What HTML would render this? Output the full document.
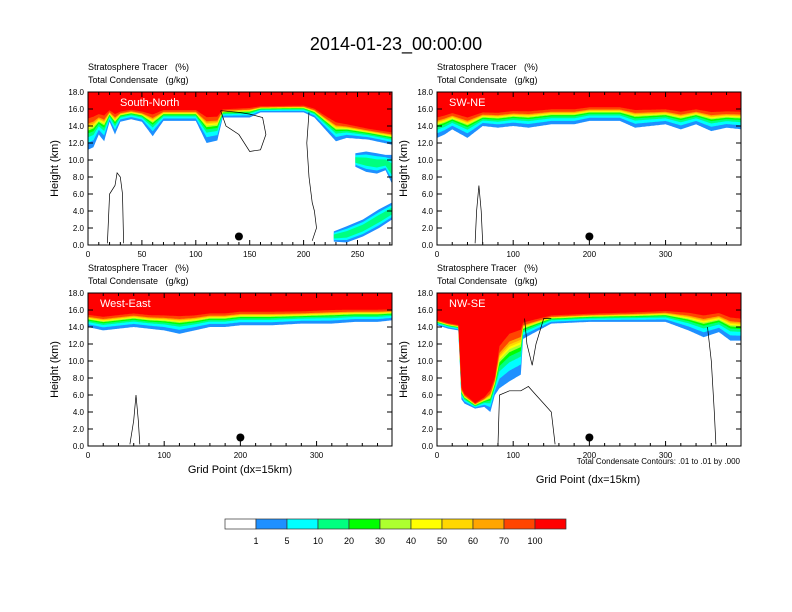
<!DOCTYPE html>
<html><head><meta charset="utf-8"><style>
html,body{margin:0;padding:0;background:#fff}
svg{display:block;font-family:"Liberation Sans",sans-serif}
text{white-space:pre}
</style></head><body>
<svg id="chart" width="792" height="612" viewBox="0 0 792 612" xmlns="http://www.w3.org/2000/svg">
<text x="396" y="50" font-size="18" text-anchor="middle">2014-01-23_00:00:00</text>
<g id="panels"></g>
<g id="colorbar"></g>
<text x="240" y="473" font-size="11" text-anchor="middle">Grid Point (dx=15km)</text>
<text x="588" y="483" font-size="11" text-anchor="middle">Grid Point (dx=15km)</text>
<text x="740" y="464" font-size="8" text-anchor="end">Total Condensate Contours: .01 to .01 by .000</text>
</svg>
<script>
const NS="http://www.w3.org/2000/svg";
const levelLabels=["1","5","10","20","30","40","50","60","70","100"];
const levelColors=["#ffffff","#1e90ff","#00ffff","#00ff80","#00ff00","#adff2f","#ffff00","#ffd700","#ffa500","#ff4500","#ff0000"];
const bandFracs=[0,0.18,0.32,0.42,0.49,0.54,0.58,0.62,0.67,0.8];
const panelNames=["South-North","SW-NE","West-East","NW-SE"];
const panelXmax=[282,399,399,399];
const p1X=[0,5,10,15,20,25,30,40,50,60,70,100,110,120,125,150,160,200,210,220,230,240,260,282];
const p1Base=[11.2,11.5,13,12.2,14.5,13,14.5,14.8,14.5,12.8,14.6,14.6,12,12.3,15,15,15.6,15.6,15,13.6,12.2,12.6,12.4,11.8];
const p1Red=[15.8,16,16,16,16.2,16,16,16.2,16,16,16.2,16.2,15.8,15.8,16.2,16.4,16.5,16.6,16.3,15.6,15,14.6,14,13.6];
const p2X=[0,10,20,40,60,80,100,120,150,180,200,240,260,300,320,340,360,380,401];
const p2Base=[12.6,13,13.6,12.6,14,13.8,14,13.8,14.2,14.2,14.6,14.6,13.8,14.2,13.6,14.2,13.4,13.8,13.6];
const p2Red=[15.6,15.8,16,15.6,16,16,16.2,16.2,16.4,16.4,16.6,16.6,16.4,16.4,16.2,16.4,16.2,16.2,16.2];
const p3X=[0,20,40,60,80,100,120,140,160,180,200,240,280,320,350,380,400];
const p3Base=[14,13.6,13.8,14,13.8,13.6,13.2,13.6,14,14,14.2,14.2,14.4,14.4,14.6,14.6,14.8];
const p3Red=[15.8,15.6,15.8,16,15.8,15.8,15.8,15.8,16,16,16.2,16.2,16.2,16.4,16.4,16.4,16.4];
const p4X=[0,15,28,32,36,50,62,70,76,82,95,110,113,125,150,200,260,300,330,350,370,385,401];
const p4Base=[14.2,13.8,13.6,5.5,5,4.4,4.6,4.0,6,6.8,7.6,8.4,12.6,13.2,14.4,14.6,14.6,14.6,13.6,12.8,13.4,12.4,12.4];
const p4Red=[15,14.6,14.4,7.2,6.4,5.2,6,7.2,8.6,13,14.6,15,15,15.2,15.6,15.8,16,16.2,16.2,16,16.2,15.8,15.6];
const blobX=[228,240,255,270,282];
const blobBot=[0.4,0.3,1.0,2.0,3.0];
const blobTop=[1.6,2.2,3.0,4.2,5.0];
const blob2X=[248,258,268,276,282];
const blob2Bot=[9.2,8.6,8.4,8.8,7.2];
const blob2Top=[10.8,11.0,10.8,10.6,10.6];
const dotX=[140,200,200,200];
const dotH=[1.0,1.0,1.0,1.0];
// condensate .01 contours (grid point, km)
const c1a=[[123,15.8],[128,14],[140,13],[150,11],[160,11.2],[165,13],[162,15],[150,15.4],[140,15.6],[123,15.8]];
const c1b=[[205,15.6],[203,12],[205,8],[208,5],[210,4],[212,2],[208,0.5]];
const c1c=[[18,0.2],[20,6],[25,7],[27,8.5],[30,8],[32,6],[33,0.2]];
const c2a=[[50,0.2],[52,4],[55,7],[58,4],[60,0.2]];
const c3a=[[55,0.2],[60,3],[63,6],[66,3],[68,0.2]];
const c4a=[[80,0.2],[82,6],[95,6.5],[110,6.5],[120,7],[130,6],[140,5],[150,4],[155,0.2]];
const c4b=[[115,15],[118,12],[125,9.5],[130,12],[140,15],[150,15]];
const c4c=[[355,14],[360,10],[362,7],[364,4],[366,0.2]];
const panelContours=[[c1a,c1b,c1c],[c2a],[c3a],[c4a,c4b,c4c]];
const panelX=[p1X,p2X,p3X,p4X];
const panelBase=[p1Base,p2Base,p3Base,p4Base];
const panelRed=[p1Red,p2Red,p3Red,p4Red];
const geom=[[88,92],[437,92],[88,293],[437,293]];
const W=304,H=153,HMAX=18;
function el(tag,attrs,parent){const e=document.createElementNS(NS,tag);for(const k in attrs)e.setAttribute(k,attrs[k]);parent.appendChild(e);return e;}
function interp(xs,ys,x){for(let i=0;i<xs.length-1;i++){if(x<=xs[i+1]){const t=(x-xs[i])/(xs[i+1]-xs[i]);return ys[i]+t*(ys[i+1]-ys[i]);}}return ys[ys.length-1];}
const root=document.getElementById("panels");
for(let p=0;p<4;p++){
  const [x0,y0]=geom[p];const xmax=panelXmax[p];
  const sx=v=>x0+v/xmax*W, sy=h=>y0+H-h/HMAX*H;
  const g=el("g",{},root);
  
  
  const xs=panelX[p],bs=panelBase[p],rs=panelRed[p];
  const samp=[];for(let x=0;x<=xmax;x+=1)samp.push(x);
  for(let k=0;k<bandFracs.length;k++){
    let d="M"+sx(0)+","+sy(HMAX);
    samp.forEach(x=>{const b=interp(xs,bs,x),r=interp(xs,rs,x);d+=" L"+sx(x).toFixed(1)+","+sy(b+bandFracs[k]*(r-b)).toFixed(1);});
    d+=" L"+sx(xmax)+","+sy(HMAX)+"Z";
    const band=el("path",{d:d,fill:levelColors[k+1]},g);
    
    
  }
  if(p===0){
    [[blobX,blobBot,blobTop],[blob2X,blob2Bot,blob2Top]].forEach(([bx,bb,bt])=>{
      for(let s=0;s<3;s++){
        const sh=s*0.3;let d="";
        bx.forEach((x,i)=>{const m=(bb[i]+bt[i])/2,hw=(bt[i]-bb[i])/2*(1-sh);d+=(i?" L":"M")+sx(x)+","+sy(m+hw);});
        for(let i=bx.length-1;i>=0;i--){const m=(bb[i]+bt[i])/2,hw=(bt[i]-bb[i])/2*(1-sh);d+=" L"+sx(bx[i])+","+sy(m-hw);}
        const b=el("path",{d:d+"Z",fill:["#1e90ff","#00ffff","#00ff80"][s]},g);
        
        
      }
    });
  }
  panelContours[p].forEach(c=>{
    const d=c.map((pt,i)=>(i?"L":"M")+sx(pt[0]).toFixed(1)+","+sy(pt[1]).toFixed(1)).join(" ");
    const ln=el("path",{d:d,fill:"none",stroke:"#000","stroke-width":0.7},g);
    
    
  });
  const fr=el("rect",{x:x0,y:y0,width:W,height:H,fill:"none",stroke:"#000","stroke-width":1},g);
  
  
  const dt=el("circle",{cx:sx(dotX[p]),cy:sy(dotH[p]),r:4,fill:"#000"},g);
  
  
  for(let h=0;h<=18;h+=2){
    const y=sy(h);
    el("line",{x1:x0,x2:x0+5,y1:y,y2:y,stroke:"#000"},g);
    el("line",{x1:x0+W,x2:x0+W-5,y1:y,y2:y,stroke:"#000"},g);
    const t=el("text",{x:x0-4,y:y+3,"font-size":8,"text-anchor":"end"},g);
    t.textContent=h.toFixed(1);
    
    
  }
  const maj=p===0?50:100,mn=p===0?10:20;
  for(let v=0;v<=xmax;v+=mn){
    const x=sx(v),isM=v%maj===0;
    el("line",{x1:x,x2:x,y1:y0+H,y2:y0+H-(isM?5:3),stroke:"#000"},g);
    el("line",{x1:x,x2:x,y1:y0,y2:y0+(isM?5:3),stroke:"#000"},g);
    if(isM){const t=el("text",{x:x,y:y0+H+12,"font-size":8,"text-anchor":"middle"},g);t.textContent=v;
      
      }
  }
  const yl=el("text",{x:0,y:0,"font-size":11,"text-anchor":"middle",transform:`translate(${x0-30},${y0+H/2}) rotate(-90)`},g);
  yl.textContent="Height (km)";
  
  
  const s1=el("text",{x:x0,y:y0-22,"font-size":9},g);s1.textContent="Stratosphere Tracer   (%)";
  
  
  const s2=el("text",{x:x0,y:y0-9,"font-size":9},g);s2.textContent="Total Condensate   (g/kg)";
  
  
  const nm=el("text",{x:x0+(p===0?32:12),y:y0+14,"font-size":11,fill:"#fff"},g);nm.textContent=panelNames[p];
  
  
}
const cb=document.getElementById("colorbar");
const cbx=225,cbw=31,cby=519,cbh=10;
levelColors.forEach((c,i)=>{
  const r=el("rect",{x:cbx+i*cbw,y:cby,width:cbw,height:cbh,fill:c,stroke:"#333","stroke-width":0.7},cb);
  
  
});
levelLabels.forEach((l,i)=>{
  const t=el("text",{x:cbx+(i+1)*cbw,y:544,"font-size":9,"text-anchor":"middle"},cb);t.textContent=l;
  
  
});
</script>
</body></html>
